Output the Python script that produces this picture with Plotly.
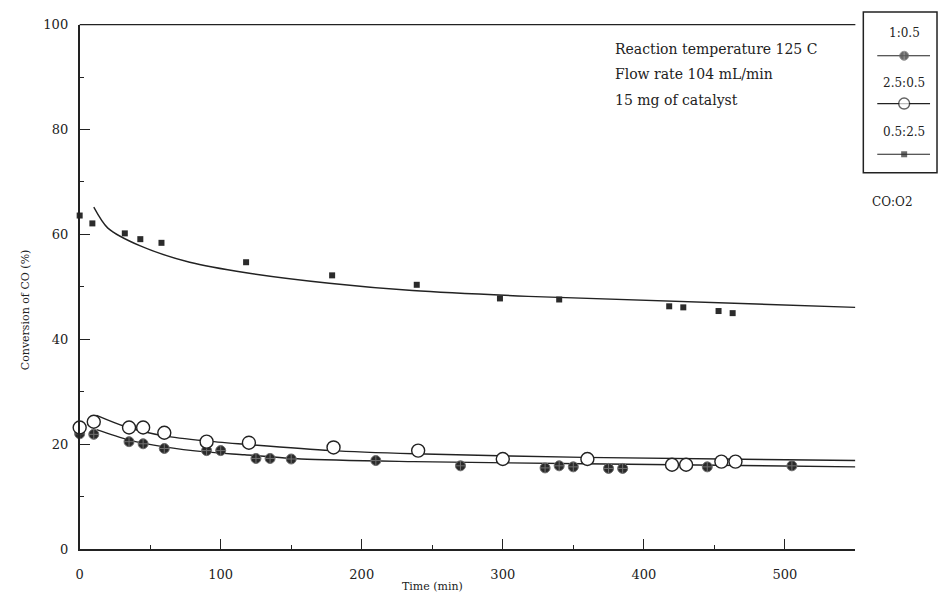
import plotly.graph_objects as go

# ---------------- data ----------------
series_names = ["1:0.5", "2.5:0.5", "0.5:2.5"]

time_1_05 = [0, 10, 35, 45, 60, 90, 100, 125, 135, 150, 210, 270, 330, 340, 350, 375, 385, 445, 505]
conv_1_05 = [22.0, 21.9, 20.5, 20.1, 19.2, 18.8, 18.8, 17.3, 17.3, 17.2, 16.9, 15.9, 15.5, 15.9, 15.7, 15.4, 15.4, 15.7, 15.9]

time_25_05 = [0, 10, 35, 45, 60, 90, 120, 180, 240, 300, 360, 420, 430, 455, 465]
conv_25_05 = [23.2, 24.3, 23.2, 23.2, 22.2, 20.5, 20.3, 19.4, 18.8, 17.2, 17.2, 16.1, 16.1, 16.7, 16.7]

time_05_25 = [0, 9, 32, 43, 58, 118, 179, 239, 298, 340, 418, 428, 453, 463]
conv_05_25 = [63.6, 62.1, 60.2, 59.1, 58.4, 54.7, 52.2, 50.4, 47.8, 47.6, 46.3, 46.1, 45.4, 45.0]

# fitted curves
fit_t_1_05 = [12, 34, 60, 91, 117, 157, 237, 357, 550]
fit_c_1_05 = [22.8, 20.9, 19.5, 18.5, 18.0, 17.2, 16.7, 16.3, 15.7]

fit_t_25_05 = [12, 32, 60, 91, 117, 178, 237, 357, 550]
fit_c_25_05 = [25.5, 23.4, 21.6, 20.6, 20.0, 18.8, 18.2, 17.5, 16.9]

fit_t_05_25 = [10, 20, 43, 78, 118, 177, 236, 318, 550]
fit_c_05_25 = [65.2, 61.2, 57.8, 54.7, 52.7, 50.7, 49.3, 48.2, 46.1]

x_ticks = [0, 100, 200, 300, 400, 500]
y_ticks = [0, 20, 40, 60, 80, 100]

annotation_lines = ["Reaction temperature 125 C", "Flow rate 104 mL/min", "15 mg of catalyst"]
x_title = "Time (min)"
y_title = "Conversion of CO (%)"
legend_title = "CO:O2"

# ---------------- layout helpers ----------------
W, H = 939, 606
INK = "#222222"
FONT = "DejaVu Serif"


def px(x):
    return x / W


def py(y):
    return 1 - y / H


marker_styles = [
    dict(symbol="circle-cross", size=10, color="#2a2a2a", line=dict(color="#707070", width=1)),
    dict(symbol="circle", size=13, color="white", line=dict(color=INK, width=1.4)),
    dict(symbol="square", size=6, color="#2b2b2b", line=dict(width=0)),
]
legend_marker_sizes = [9, 11, 6]

fig = go.Figure()

fits = [(fit_t_1_05, fit_c_1_05), (fit_t_25_05, fit_c_25_05), (fit_t_05_25, fit_c_05_25)]
pts = [(time_1_05, conv_1_05), (time_25_05, conv_25_05), (time_05_25, conv_05_25)]

for (ft, fc) in fits:
    fig.add_trace(go.Scatter(x=ft, y=fc, mode="lines", line=dict(color=INK, width=1.4, shape="spline", smoothing=0.8),
                             showlegend=False, hoverinfo="skip", cliponaxis=False))
for (t, c), ms in zip(pts, marker_styles):
    fig.add_trace(go.Scatter(x=t, y=c, mode="markers", marker=ms, showlegend=False, cliponaxis=False))

# ---- custom legend (text above a line-with-marker sample) ----
leg_text_y = [27, 78, 128]
leg_line_y = [50, 99, 151]
for name, ms, msz, ty, ly in zip(series_names, marker_styles, legend_marker_sizes, leg_text_y, leg_line_y):
    fig.add_trace(go.Scatter(x=[877, 904, 930], y=[ly, ly, ly], xaxis="x2", yaxis="y2", mode="lines+markers",
                             line=dict(color=INK, width=1.2),
                             marker=dict(ms, size=[0, msz, 0]),
                             showlegend=False, hoverinfo="skip", cliponaxis=False))
    fig.add_annotation(x=px(904), y=py(ty), xref="paper", yref="paper", text=name, showarrow=False,
                       font=dict(family=FONT, size=12, color=INK), xanchor="center", yanchor="middle")

fig.add_shape(type="rect", xref="paper", yref="paper", x0=px(863), x1=px(937), y0=py(5), y1=py(170),
              line=dict(color=INK, width=1.5))
fig.add_annotation(x=px(892), y=py(200), xref="paper", yref="paper", text=legend_title, showarrow=False,
                   font=dict(family=FONT, size=12, color=INK), xanchor="center", yanchor="middle")

# ---- top border of the plot frame ----
fig.add_shape(type="line", xref="paper", yref="paper", x0=px(76), x1=px(855), y0=py(18), y1=py(18),
              line=dict(color=INK, width=1.3))

# ---- condition notes ----
for i, line in enumerate(annotation_lines):
    fig.add_annotation(x=px(612), y=py(43 + 26 * i), xref="paper", yref="paper", text=line, showarrow=False,
                       font=dict(family=FONT, size=14, color=INK), xanchor="left", yanchor="middle")

# ---- axis titles ----
fig.add_annotation(x=px(430), y=py(594), xref="paper", yref="paper", text=x_title, showarrow=False,
                   font=dict(family=FONT, size=11, color=INK), xanchor="center", yanchor="middle")
fig.add_annotation(x=px(21), y=py(310), xref="paper", yref="paper", text=y_title, showarrow=False, textangle=-90,
                   font=dict(family=FONT, size=11, color=INK), xanchor="center", yanchor="middle")

fig.update_layout(
    width=W, height=H,
    margin=dict(l=0, r=0, t=0, b=0),
    paper_bgcolor="white", plot_bgcolor="white",
    font=dict(family=FONT, color=INK),
    showlegend=False,
    xaxis=dict(domain=[px(76), px(855)], range=[0, 550], tickvals=x_ticks, ticks="inside", ticklen=10,
               tickwidth=1.3, tickcolor=INK, showline=True, linecolor=INK, linewidth=1.6,
               showgrid=False, zeroline=False, tickfont=dict(family=FONT, size=13, color=INK),
               ticklabelstandoff=12,
               minor=dict(ticks="inside", dtick=50, tick0=0, ticklen=4, tickcolor=INK, showgrid=False)),
    yaxis=dict(domain=[py(556), py(18)], range=[0, 100], tickvals=y_ticks, ticks="inside", ticklen=10,
               tickwidth=1.3, tickcolor=INK, showline=True, linecolor=INK, linewidth=1.8,
               showgrid=False, zeroline=False, tickfont=dict(family=FONT, size=13, color=INK),
               ticklabelstandoff=7,
               minor=dict(ticks="inside", dtick=10, tick0=0, ticklen=4, tickcolor=INK, showgrid=False)),
    xaxis2=dict(domain=[px(863), px(937)], range=[863, 937], visible=False, anchor="y2", fixedrange=True),
    yaxis2=dict(domain=[py(170), py(5)], range=[170, 5], visible=False, anchor="x2", fixedrange=True),
)

fig.write_html("out.html")
